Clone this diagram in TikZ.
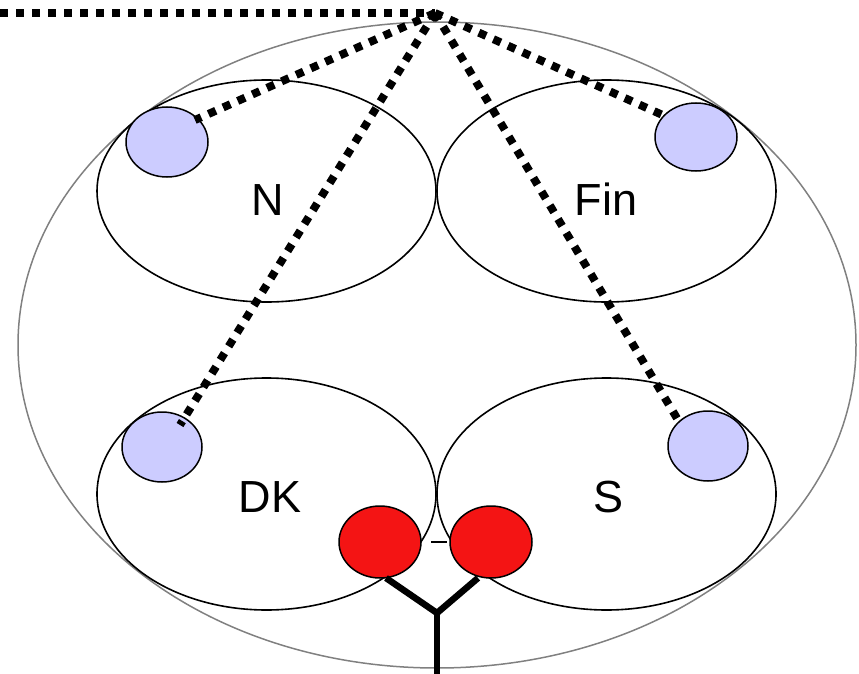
\documentclass[tikz,border=0pt]{standalone}
\usepackage{fontspec}
\setmainfont{Liberation Sans}
\definecolor{blueish}{RGB}{204,204,255}
\definecolor{reddish}{RGB}{244,20,20}
\begin{document}
\begin{tikzpicture}[x=1pt,y=-1pt,
  region/.style={draw=black,line width=1.6pt},
  pin/.style={draw=black,line width=1.5pt,fill=blueish},
  redpin/.style={draw=black,line width=1.5pt,fill=reddish},
  dots/.style={line width=8pt,dash pattern=on 8pt off 8pt},
  stem/.style={line width=6.5pt},
  lbl/.style={font=\fontsize{45}{54}\selectfont,anchor=base,inner sep=0pt}]
\useasboundingbox (0,0) rectangle (859,674);
% outer ellipse
\draw[draw=gray,line width=1.5pt] (437,345) ellipse [x radius=419, y radius=323];
% regions
\draw[region] (266.5,191) ellipse [x radius=169.5, y radius=111];
\draw[region] (606.5,191) ellipse [x radius=169.5, y radius=111];
\draw[region] (266.5,494) ellipse [x radius=169.5, y radius=116];
\draw[region] (606.5,494) ellipse [x radius=169.5, y radius=116];
% blue pins
\draw[pin] (167,142) ellipse [x radius=41, y radius=35];
\draw[pin] (696,137) ellipse [x radius=41, y radius=34];
\draw[pin] (162,447) ellipse [x radius=40, y radius=35];
\draw[pin] (708,446) ellipse [x radius=40, y radius=35];
% coordinates
\coordinate (apex) at (435,13);
\coordinate (left) at (0,13);
\coordinate (pn) at (195,120);
\coordinate (pf) at (667,117);
\coordinate (pd) at (180,425);
\coordinate (ps) at (681,425);
\draw[dots] (left) -- (apex);
\draw[dots] (apex) -- (pn);
\draw[dots] (apex) -- (pf);
\draw[dots] (apex) -- (pd);
\draw[dots] (apex) -- (ps);
% labels
\node[lbl] (N) at (268,215) {N};
\node[lbl] (Fin) at (606,215) {Fin};
\node[lbl] (DK) at (270,512) {DK};
\node[lbl] (S) at (608,512) {S};
% red pins
\draw[redpin] (380,542) ellipse [x radius=41, y radius=36];
\draw[redpin] (491,542) ellipse [x radius=41, y radius=36];
\coordinate (da) at (431,542);
\coordinate (db) at (447,542);
\draw[line width=1.8pt] (da) -- (db);
% Y
\coordinate (yl) at (386,578);
\coordinate (yr) at (478,578);
\coordinate (yc) at (437,613);
\coordinate (yb) at (437,674);
\draw[stem,line join=miter] (yl) -- (yc) -- (yr);
\draw[stem] (yc) -- (yb);
\end{tikzpicture}
\end{document}
